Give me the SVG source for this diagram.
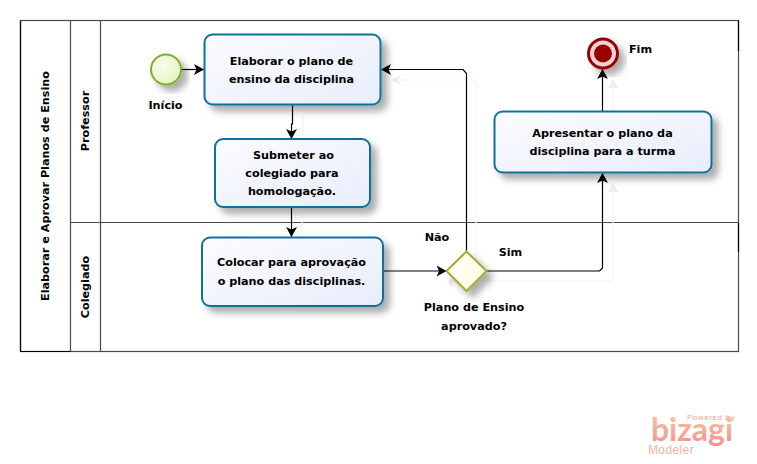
<svg xmlns="http://www.w3.org/2000/svg" width="757" height="464" viewBox="0 0 757 464">
<style>
text{font-family:"DejaVu Sans","Liberation Sans",sans-serif;font-weight:700;font-size:11.2px;fill:#000;text-anchor:middle}
.frame{fill:none;stroke:#4a4a4a;stroke-width:1.2}
.task{stroke:#10709f;stroke-width:2;fill:url(#taskFill);filter:url(#shadow)}
.flow{fill:none;stroke:#000;stroke-width:1.2;marker-end:url(#arrow)}
.ghost{fill:none;stroke:#f3f3f3;stroke-width:1.2}
.ghostHead{fill:#eeeeee}
</style>
<defs>
<linearGradient id="taskFill" x1="0" y1="0" x2="1" y2="1"><stop offset="0" stop-color="#fbfcff"/><stop offset="1" stop-color="#e8edfb"/></linearGradient>
<radialGradient id="startFill" cx="0.4" cy="0.4" r="0.7"><stop offset="0" stop-color="#fbfded"/><stop offset="1" stop-color="#e2f2bd"/></radialGradient>
<linearGradient id="gateFill" x1="0" y1="0" x2="1" y2="1"><stop offset="0" stop-color="#ffffff"/><stop offset="1" stop-color="#fdfde0"/></linearGradient>
<linearGradient id="logoFill" gradientUnits="userSpaceOnUse" x1="0" y1="417" x2="0" y2="449"><stop offset="0" stop-color="#f9bf9f"/><stop offset="1" stop-color="#ee8f8f"/></linearGradient>
<filter id="shadow" x="-20%" y="-20%" width="150%" height="150%"><feDropShadow dx="6" dy="6" stdDeviation="3.500" flood-color="#000" flood-opacity="0.32"/></filter>
<marker id="arrow" markerUnits="userSpaceOnUse" markerWidth="12" markerHeight="12" refX="10" refY="6" orient="auto"><path d="M0 0.500 L10 6 L0 11.500 L2.500 6 Z" fill="#000"/></marker>
</defs>
<rect width="757" height="464" fill="#fff"/>
<g id="pool">
<rect class="frame" x="20.500" y="20.500" width="718" height="331"/>
<path d="M20.500 20.500V351.500H70.500M738.500 20.500V51M738.500 222.500V252" fill="none" stroke="#000" stroke-width="1.200"/>
<path class="frame" d="M70.500 20.500V351.500M100.500 20.500V351.500M70.500 222.500H738.500"/>
<text transform="translate(49 186) rotate(-90)">Elaborar e Aprovar Planos de Ensino</text>
</g>
<g id="lane-professor"><text transform="translate(89 121) rotate(-90)">Professor</text></g>
<g id="lane-colegiado"><text transform="translate(89 287) rotate(-90)">Colegiado</text></g>
<g id="ghost-connectors">
<path class="ghost" d="M392 80H472Q476 80 476 84V281M486 281H609Q613 281 613 277V183M613 111V85M303 115V137M302 215V235"/>
<path class="ghostHead" d="M392 80L401 74L398 80L401 86Z M613 79L608 88H618Z M613 183L608 192H618Z M448 281L458 272L451 287Z"/>
</g>
<g id="connectors">
<path class="flow" d="M181 69.500H204"/>
<path class="flow" d="M292.500 105V124H291.500V139"/>
<path class="flow" d="M291.500 207V237"/>
<path class="flow" d="M383 271H446.500"/>
<path class="flow" d="M466.500 251V73.500L463 69.500H381"/>
<path class="flow" d="M486.500 271H599.500L602.500 268V173"/>
<path class="flow" d="M602.500 111V69"/>
</g>
<g id="start"><circle cx="166" cy="69.500" r="15" fill="url(#startFill)" stroke="#7cb02a" stroke-width="2" filter="url(#shadow)"/><text x="165.500" y="109">Início</text></g>
<g id="task-elaborar"><rect class="task" x="204.500" y="34.500" width="176" height="70" rx="8"/><text x="291.500" y="65">Elaborar o plano de</text><text x="291.500" y="83">ensino da disciplina</text></g>
<g id="task-submeter"><rect class="task" x="215" y="139" width="155" height="68" rx="8"/><text x="293.500" y="159">Submeter ao</text><text x="292" y="177">colegiado para</text><text x="292" y="195">homologação.</text></g>
<g id="task-colocar"><rect class="task" x="202" y="237.500" width="181" height="68.500" rx="8"/><text x="291.500" y="266">Colocar para aprovação</text><text x="291.500" y="285">o plano das disciplinas.</text></g>
<g id="task-apresentar"><rect class="task" x="494.500" y="111.500" width="217" height="61" rx="8"/><text x="602.500" y="137">Apresentar o plano da</text><text x="602.500" y="155">disciplina para a turma</text></g>
<g id="end"><circle cx="603" cy="53.500" r="14.500" fill="#f3d2d2" stroke="#990000" stroke-width="3" filter="url(#shadow)"/><circle cx="603" cy="53.500" r="9" fill="#990000"/><text x="640.500" y="53">Fim</text></g>
<g id="gateway"><path d="M466.500 251.500L486.500 271L466.500 291L446.500 271Z" fill="url(#gateFill)" stroke="#a9a92a" stroke-width="2" filter="url(#shadow)"/><text x="474" y="311">Plano de Ensino</text><text x="474" y="330">aprovado?</text></g>
<g id="labels"><text x="437" y="241">Não</text><text x="510.500" y="256">Sim</text></g>
<g id="logo">
<text x="711" y="420" style="font-size:8px;font-weight:400;fill:#f4a58c;font-family:'Liberation Sans',sans-serif;letter-spacing:.6px">Powered by</text>
<text x="692" y="441" textLength="82" lengthAdjust="spacingAndGlyphs" style="font-size:33px;font-weight:700;fill:url(#logoFill);font-family:'Lato',sans-serif">bizagi</text>
<text x="671" y="454" style="font-size:12px;font-weight:400;fill:#f0b3a8;font-family:'Liberation Sans',sans-serif;letter-spacing:.4px">Modeler</text>
</g>
</svg>
